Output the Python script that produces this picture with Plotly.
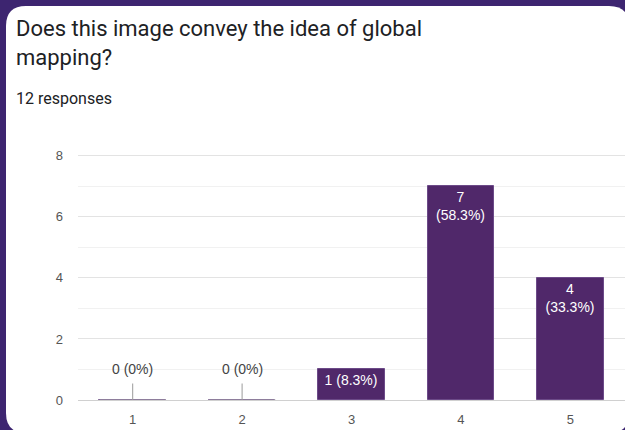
import plotly.graph_objects as go

# Survey answers: rating scale 1-5, number of responses per rating
ratings = [1, 2, 3, 4, 5]
counts = [0, 0, 1, 7, 4]
total_responses = 12
question_lines = ["Does this image convey the idea of global", "mapping?"]
y_ticks = [0, 2, 4, 6, 8]

W, H = 625, 430
ML, MR, MT, MB = 78, 0, 154, 30
PW, PH = W - ML - MR, H - MT - MB

BG = "#3d2570"
BAR = "#50286a"
TEXT = "#202124"
AXIS_TEXT = "#555555"
CHART_FONT = "Arial, Liberation Sans"


def px_x(px):
    return (px - ML) / PW


def px_y(py):
    return (H - MB - py) / PH


def pct_label(v):
    p = v / total_responses * 100
    s = f"{p:.1f}".rstrip("0").rstrip(".")
    return f"{s}%"


# Bar labels: count and share; tall bars split over two lines
bar_text = []
for v in counts:
    if v == 0:
        bar_text.append("")
    else:
        sep = "<br>" if v >= 2 else " "
        bar_text.append(f"{v}{sep}({pct_label(v)})")

fig = go.Figure()

fig.add_trace(go.Bar(
    x=ratings,
    y=counts,
    width=0.61,
    marker=dict(color=BAR, line=dict(color="#6c4a88", width=1)),
    text=bar_text,
    textposition="inside",
    insidetextanchor="end",
    textangle=0,
    textfont=dict(family=CHART_FONT, size=14, color="white"),
    hoverinfo="skip",
))

# Empty bars shown as a thin grey segment on the baseline
zero_x = [r for r, v in zip(ratings, counts) if v == 0]
zero_y = [v for v in counts if v == 0]
fig.add_trace(go.Scatter(
    x=zero_x,
    y=zero_y,
    mode="markers",
    marker=dict(size=1, color="rgba(0,0,0,0)"),
    error_x=dict(type="constant", value=0.305, width=0, thickness=1, color="#b0b0b0"),
    hoverinfo="skip",
    showlegend=False,
))

annotations = []
# Labels with a small stem for empty bars
for r, v in zip(ratings, counts):
    if v == 0:
        annotations.append(dict(
            x=r, y=v, xref="x", yref="y",
            text=f"{v} ({pct_label(v)})",
            showarrow=True, arrowhead=0, arrowwidth=1, arrowcolor="#9a9a9a",
            ax=0, ay=-31, standoff=0, startstandoff=5,
            font=dict(family=CHART_FONT, size=14, color="#444444"),
        ))

# Question title and response count
annotations.append(dict(
    xref="paper", yref="paper", x=px_x(14), y=px_y(28),
    xanchor="left", yanchor="middle", showarrow=False,
    text=question_lines[0],
    font=dict(family="Roboto", size=22, color=TEXT),
))
annotations.append(dict(
    xref="paper", yref="paper", x=px_x(14), y=px_y(57),
    xanchor="left", yanchor="middle", showarrow=False,
    text=question_lines[1],
    font=dict(family="Roboto", size=22, color=TEXT),
))
annotations.append(dict(
    xref="paper", yref="paper", x=px_x(14), y=px_y(98),
    xanchor="left", yanchor="middle", showarrow=False,
    text=f"{total_responses} responses",
    font=dict(family="Roboto", size=16, color=TEXT),
))

# White rounded card on the purple page
x0, y0, x1, y1, rad = px_x(6), px_y(6), px_x(629), px_y(433), 20
rx, ry = rad / PW, rad / PH
card = (
    f"M {x0 + rx},{y0} L {x1 - rx},{y0} Q {x1},{y0} {x1},{y0 - ry} "
    f"L {x1},{y1 + ry} Q {x1},{y1} {x1 - rx},{y1} "
    f"L {x0 + rx},{y1} Q {x0},{y1} {x0},{y1 + ry} "
    f"L {x0},{y0 - ry} Q {x0},{y0} {x0 + rx},{y0} Z"
)

fig.update_layout(
    width=W, height=H,
    margin=dict(l=ML, r=MR, t=MT, b=MB, pad=0),
    paper_bgcolor=BG,
    plot_bgcolor="rgba(0,0,0,0)",
    showlegend=False,
    bargap=0,
    shapes=[dict(type="path", path=card, xref="paper", yref="paper",
                 fillcolor="white", line=dict(width=0), layer="below")],
    annotations=annotations,
    xaxis=dict(
        range=[0.5, 5.5],
        tickmode="array",
        tickvals=ratings,
        ticktext=[str(r) for r in ratings],
        showgrid=False, zeroline=False, showline=False,
        ticks="", ticklabelstandoff=10,
        tickfont=dict(family=CHART_FONT, size=13, color=AXIS_TEXT),
        fixedrange=True,
    ),
    yaxis=dict(
        range=[0, 8.06],
        tickmode="array",
        tickvals=y_ticks,
        showgrid=True, gridcolor="#e3e3e3", gridwidth=1,
        zeroline=True, zerolinecolor="#d0d0d0", zerolinewidth=1,
        showline=False, ticks="", ticklabelstandoff=14,
        minor=dict(dtick=1, showgrid=True, gridcolor="#f1f1f1", gridwidth=1),
        tickfont=dict(family=CHART_FONT, size=13, color=AXIS_TEXT),
        fixedrange=True,
    ),
)

fig.write_html("out.html", config={"displayModeBar": False})
